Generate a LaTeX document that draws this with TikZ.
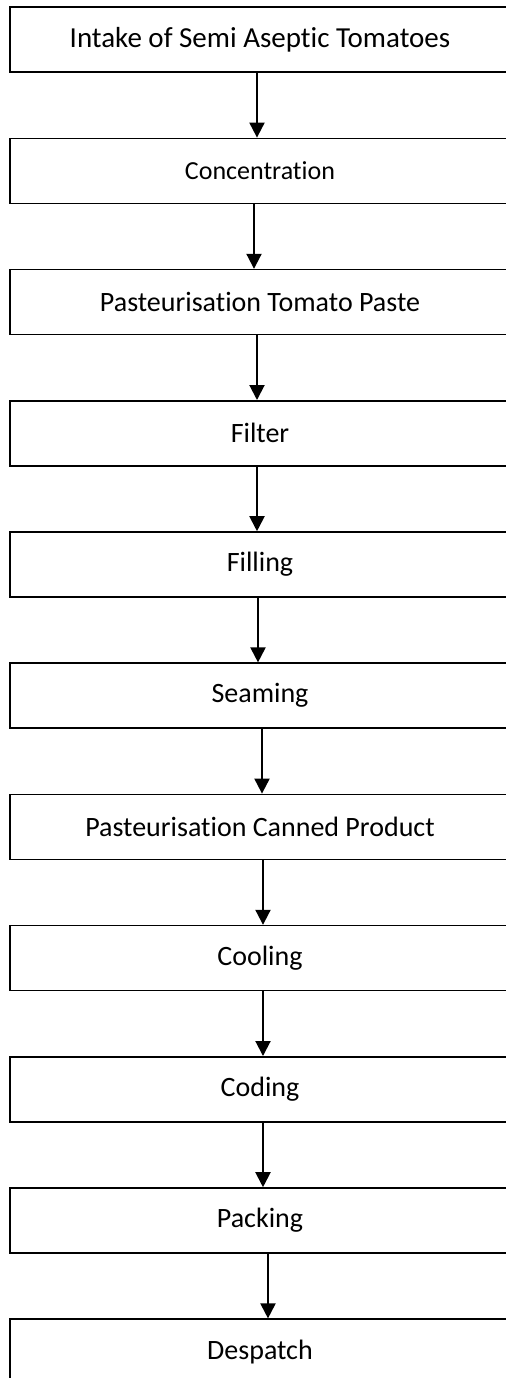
\documentclass[tikz,border=0pt]{standalone}
\usepackage{fontspec}
\setmainfont{Carlito}[Ligatures=NoCommon]
\usetikzlibrary{arrows.meta, positioning}

\begin{document}
\begin{tikzpicture}[
        stage/.style={rectangle, minimum width=250pt, minimum height=32.5pt, inner sep=0pt, text centered, draw=black, line width=0.8pt, font=\fontsize{14}{17}\selectfont},
        % Style cho mũi tên
        flow/.style={-{Triangle[length=7.5pt, width=7.5pt]}, line width=1pt}
    ]
        \useasboundingbox (0,0) rectangle (252.5pt,-689pt);

        % Các bước chế biến
        \node (intake) [stage, anchor=north, font=\fontsize{14.5}{17}\selectfont] at (130pt,-3.2pt) {Intake of Semi Aseptic Tomatoes};
        \node (conc) [stage, below=32.3pt of intake, font=\fontsize{13}{16}\selectfont] {Concentration};
        \node (pastpaste) [stage, below=32.3pt of conc] {Pasteurisation Tomato Paste};
        \node (filter) [stage, below=32.3pt of pastpaste] {Filter};
        \node (filling) [stage, below=32.3pt of filter] {Filling};
        \node (seaming) [stage, below=32.3pt of filling] {Seaming};
        \node (pastcan) [stage, below=32.3pt of seaming] {Pasteurisation Canned Product};
        \node (cooling) [stage, below=32.3pt of pastcan] {Cooling};
        \node (coding) [stage, below=32.3pt of cooling] {Coding};
        \node (packing) [stage, below=32.3pt of coding] {Packing};
        \node (despatch) [stage, below=32.3pt of packing] {Despatch};

        % Mũi tên giữa các bước
        \draw[flow] ([xshift=-1.5pt]intake.south) -- ([xshift=-1.5pt]conc.north);
        \draw[flow] ([xshift=-3pt]conc.south) -- ([xshift=-3pt]pastpaste.north);
        \draw[flow] ([xshift=-1.5pt]pastpaste.south) -- ([xshift=-1.5pt]filter.north);
        \draw[flow] ([xshift=-1.5pt]filter.south) -- ([xshift=-1.5pt]filling.north);
        \draw[flow] ([xshift=-1pt]filling.south) -- ([xshift=-1pt]seaming.north);
        \draw[flow] ([xshift=1pt]seaming.south) -- ([xshift=1pt]pastcan.north);
        \draw[flow] ([xshift=1.5pt]pastcan.south) -- ([xshift=1.5pt]cooling.north);
        \draw[flow] ([xshift=1.5pt]cooling.south) -- ([xshift=1.5pt]coding.north);
        \draw[flow] ([xshift=1.5pt]coding.south) -- ([xshift=1.5pt]packing.north);
        \draw[flow] ([xshift=4pt]packing.south) -- ([xshift=4pt]despatch.north);

    \end{tikzpicture}
\end{document}
